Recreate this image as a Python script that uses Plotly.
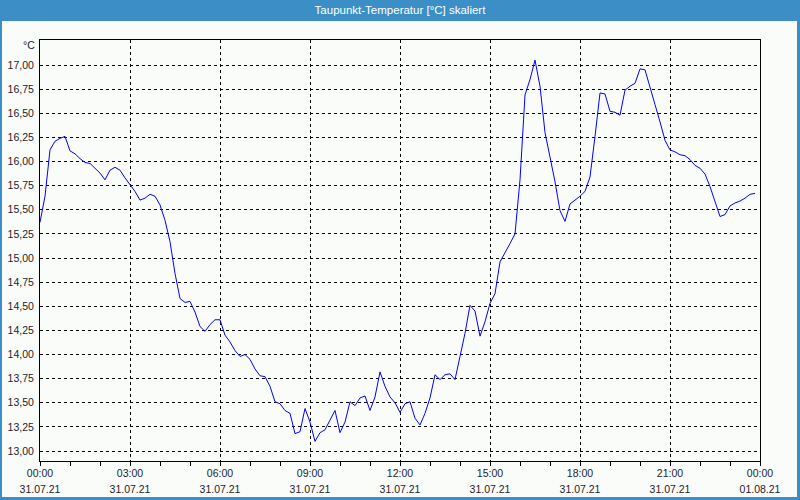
import pandas as pd
import plotly.graph_objects as go

# ---- data (10-minute readings, 31.07.21) ----
start = "2021-07-31 00:00"
dew_point = [
    15.37, 15.64, 16.12, 16.21, 16.24, 16.26, 16.11, 16.08, 16.03, 15.99, 15.98, 15.93,
    15.88, 15.81, 15.91, 15.94, 15.91, 15.83, 15.76, 15.69, 15.60, 15.62, 15.66, 15.64,
    15.55, 15.39, 15.17, 14.84, 14.58, 14.54, 14.55, 14.44, 14.29, 14.24, 14.31, 14.36,
    14.36, 14.20, 14.13, 14.04, 13.98, 14.00, 13.95, 13.85, 13.78, 13.77, 13.67, 13.51,
    13.49, 13.42, 13.39, 13.18, 13.20, 13.44, 13.30, 13.10, 13.19, 13.22, 13.32, 13.42,
    13.19, 13.30, 13.51, 13.47, 13.55, 13.57, 13.42, 13.56, 13.82, 13.67, 13.56, 13.50,
    13.40, 13.49, 13.51, 13.34, 13.27, 13.39, 13.55, 13.79, 13.74, 13.79, 13.80, 13.74,
    13.98, 14.22, 14.51, 14.45, 14.19, 14.34, 14.53, 14.63, 14.96, 15.05, 15.15, 15.25,
    15.81, 16.69, 16.85, 17.05, 16.78, 16.30, 16.05, 15.79, 15.49, 15.38, 15.56, 15.60,
    15.64, 15.69, 15.84, 16.26, 16.71, 16.70, 16.52, 16.51, 16.48, 16.74, 16.78, 16.81,
    16.96, 16.95, 16.78, 16.59, 16.41, 16.22, 16.12, 16.10, 16.07, 16.06, 16.02, 15.96,
    15.93, 15.87, 15.74, 15.58, 15.43, 15.45, 15.54, 15.57, 15.59, 15.62, 15.66, 15.67,
]
times = pd.date_range(start, periods=len(dew_point), freq="10min")

tick_times = pd.date_range("2021-07-31 00:00", "2021-08-01 00:00", freq="3h")
tick_time_labels = [t.strftime("%H:%M") for t in tick_times]
tick_date_labels = [t.strftime("%d.%m.%y") for t in tick_times]
y_ticks = [13.0, 13.25, 13.5, 13.75, 14.0, 14.25, 14.5, 14.75, 15.0, 15.25, 15.5, 15.75,
           16.0, 16.25, 16.5, 16.75, 17.0]

title_text = "Taupunkt-Temperatur [°C] skaliert"
unit_text = "°C"

# ---- styling ----
BG = "#fafcfa"
BLUE = "#3b8fc6"
FONT = "Liberation Sans"
TXT = "#1c1c2c"

W, H = 800, 500
ML, MR, MT, MB = 40, 40, 40, 39
PW, PH = W - ML - MR, H - MT - MB

def px_x(p):
    return (p - ML) / PW

def px_y(p):
    return (H - MB - p) / PH

fig = go.Figure()
fig.add_trace(go.Scatter(x=times, y=dew_point, mode="lines",
                         line=dict(color="#0000ff", width=1), hoverinfo="skip",
                         showlegend=False))
fig.add_trace(go.Scatter(x=times, y=dew_point, mode="lines", xaxis="x2",
                         line=dict(color="rgba(0,0,0,0)", width=0), hoverinfo="skip",
                         showlegend=False))

x_range = [tick_times[0], tick_times[-1]]
y_range = [13.0 - 10 / 96.5, 17.0 + 25 / 96.5]

fig.update_layout(
    width=W, height=H,
    margin=dict(l=ML, r=MR, t=MT, b=MB, pad=0, autoexpand=False),
    paper_bgcolor=BG, plot_bgcolor=BG,
    separators=",.",
    showlegend=False,
    font=dict(family=FONT, size=11, color=TXT),
    title=dict(text=title_text, x=0.5, xanchor="center", xref="paper",
               y=1 - 10 / H, yref="container", yanchor="middle",
               font=dict(family=FONT, size=11.5, color="white")),
    xaxis=dict(
        type="date", range=x_range, automargin=False,
        tickvals=list(tick_times), ticktext=tick_time_labels,
        ticks="outside", ticklen=4, tickcolor="black", tickwidth=1,
        minor=dict(dtick=3600000, ticks="outside", ticklen=4, tickcolor="black",
                   showgrid=False),
        showgrid=True, gridcolor="black", gridwidth=1, griddash="3px,3px",
        showline=True, linecolor="black", linewidth=1, mirror=True,
        zeroline=False, tickfont=dict(size=10.5, color=TXT),
        ticklabelstandoff=-2,
    ),
    xaxis2=dict(
        type="date", overlaying="x", matches="x", anchor="y", side="bottom",
        range=x_range, automargin=False,
        tickvals=list(tick_times), ticktext=tick_date_labels,
        ticks="", showgrid=False, showline=False, zeroline=False,
        tickfont=dict(size=10.5, color=TXT), ticklabelstandoff=20,
    ),
    yaxis=dict(
        range=y_range, tickvals=y_ticks, tickformat=".2f", automargin=False,
        ticks="", showgrid=True, gridcolor="black", gridwidth=1, griddash="3px,3px",
        showline=True, linecolor="black", linewidth=1, mirror=True,
        zeroline=False, tickfont=dict(size=10.5, color=TXT),
        ticklabelstandoff=3,
    ),
    shapes=[
        # title bar
        dict(type="rect", xref="paper", yref="paper", x0=px_x(0), x1=px_x(W),
             y0=px_y(21), y1=px_y(0), fillcolor=BLUE, line=dict(width=0), layer="below"),
        # window borders
        dict(type="rect", xref="paper", yref="paper", x0=px_x(0), x1=px_x(2),
             y0=px_y(H), y1=px_y(0), fillcolor=BLUE, line=dict(width=0)),
        dict(type="rect", xref="paper", yref="paper", x0=px_x(W - 3), x1=px_x(W),
             y0=px_y(H), y1=px_y(0), fillcolor=BLUE, line=dict(width=0)),
        dict(type="rect", xref="paper", yref="paper", x0=px_x(0), x1=px_x(W),
             y0=px_y(H), y1=px_y(H - 3), fillcolor=BLUE, line=dict(width=0)),
    ],
    annotations=[
        dict(text=unit_text, xref="paper", yref="paper", x=px_x(37), y=px_y(45),
             xanchor="right", yanchor="middle", showarrow=False,
             font=dict(size=10.5, color=TXT)),
    ],
)

fig.write_html("out.html")
